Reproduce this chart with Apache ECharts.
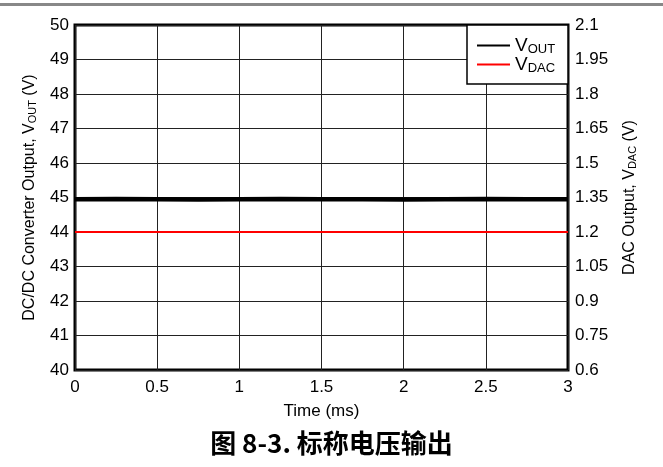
<!DOCTYPE html>
<html><head><meta charset="utf-8">
<script src="https://cdn.jsdelivr.net/npm/echarts@6/dist/echarts.min.js"></script>
<style>html,body{margin:0;padding:0;background:#fff}#c{width:663px;height:467px}</style>
</head><body><div id="c"></div>
<script>
const timeMs = [0, 0.25, 0.5, 0.75, 1, 1.25, 1.5, 1.75, 2, 2.25, 2.5, 2.75, 3];
const vout = [44.95, 44.96, 44.95, 44.94, 44.95, 44.96, 44.95, 44.95, 44.94, 44.95, 44.96, 44.95, 44.95];
const vdac = [1.2, 1.2, 1.2, 1.2, 1.2, 1.2, 1.2, 1.2, 1.2, 1.2, 1.2, 1.2, 1.2];

const chart = echarts.init(document.getElementById('c'));
const FONT = '"Liberation Sans", Arial, sans-serif';
const fmt = v => String(parseFloat(v.toFixed(2)));
const legendText = {fontFamily: FONT, fontSize: 19, color: '#000',
  rich: {v: {fontSize: 19}, s: {fontSize: 13, verticalAlign: 'bottom', padding: [7, 0, 0, 0]}}};
const legendFmt = n => n === 'VOUT' ? '{v|V}{s|OUT}' : '{v|V}{s|DAC}';
chart.setOption({
  animation: false,
  textStyle: {fontFamily: FONT},
  graphic: [
    {type: 'rect', shape: {x: 0, y: 3, width: 663, height: 3}, style: {fill: '#888'}},
    {type: 'rect', z: 3, shape: {x: 467, y: 25, width: 101, height: 59}, style: {fill: '#fff', stroke: '#000', lineWidth: 1.5}},
    {type: 'text', left: 'center', top: 430, style: {text: '图 8-3. 标称电压输出', font: 'bold 26px "Noto Sans CJK SC", sans-serif', fill: '#000'}}
  ],
  grid: {left: 75, right: 95, top: 25, bottom: 97, show: true, borderColor: '#000', borderWidth: 3},
  legend: [
    {left: 477, top: 36, z: 10, padding: 0, itemWidth: 33, itemHeight: 2, itemGap: 8, textStyle: legendText, formatter: legendFmt,
     data: [{name: 'VOUT', icon: 'rect'}]},
    {left: 477, top: 55, z: 10, padding: 0, itemWidth: 33, itemHeight: 2, itemGap: 8, textStyle: legendText, formatter: legendFmt,
     data: [{name: 'VDAC', icon: 'rect'}]}
  ],
  xAxis: {
    type: 'value', min: 0, max: 3, interval: 0.5,
    name: 'Time (ms)', nameLocation: 'middle', nameGap: 33,
    nameTextStyle: {fontSize: 17, color: '#000', fontFamily: FONT},
    axisLine: {show: false}, axisTick: {show: false},
    axisLabel: {fontSize: 17, color: '#000', margin: 9, formatter: fmt},
    splitLine: {show: true, lineStyle: {color: '#222', width: 1}}
  },
  yAxis: [
    {type: 'value', min: 40, max: 50, interval: 1,
     name: 'DC/DC Converter Output, V{s|OUT} (V)', nameLocation: 'middle', nameGap: 37, nameRotate: 90,
     nameTextStyle: {fontSize: 16, color: '#000', fontFamily: FONT, rich: {s: {fontSize: 11, verticalAlign: 'bottom'}}},
     axisLine: {show: false}, axisTick: {show: false},
     axisLabel: {fontSize: 17, color: '#000', margin: 6},
     splitLine: {show: true, lineStyle: {color: '#222', width: 1}}},
    {type: 'value', min: 0.6, max: 2.1, interval: 0.15, position: 'right',
     name: 'DAC Output, V{s|DAC} (V)', nameLocation: 'middle', nameGap: 54, nameRotate: 90,
     nameTextStyle: {fontSize: 16, color: '#000', fontFamily: FONT, rich: {s: {fontSize: 11, verticalAlign: 'bottom'}}},
     axisLine: {show: false}, axisTick: {show: false},
     axisLabel: {fontSize: 17, color: '#000', margin: 7, formatter: fmt},
     splitLine: {show: false}}
  ],
  series: [
    {name: 'VOUT', type: 'line', yAxisIndex: 0, showSymbol: false, data: timeMs.map((t, i) => [t, vout[i]]), lineStyle: {color: '#000', width: 4.5}, itemStyle: {color: '#000'}},
    {name: 'VDAC', type: 'line', yAxisIndex: 1, showSymbol: false, data: timeMs.map((t, i) => [t, vdac[i]]), lineStyle: {color: '#f00', width: 2}, itemStyle: {color: '#f00'}}
  ]
});
</script></body></html>
